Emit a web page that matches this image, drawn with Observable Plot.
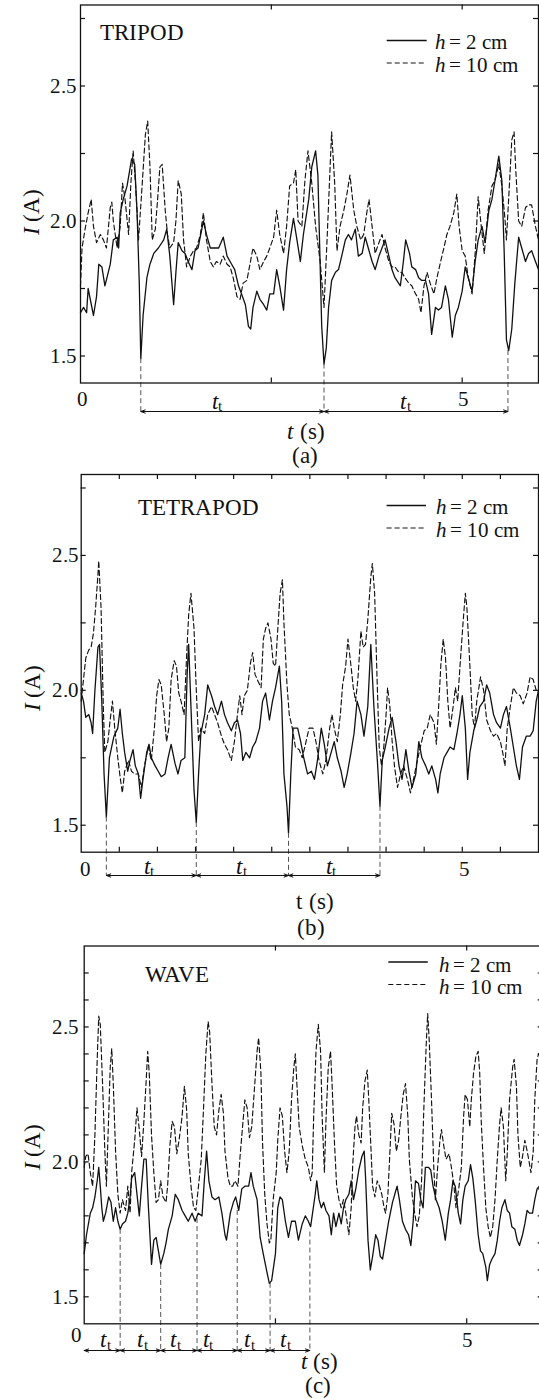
<!DOCTYPE html>
<html>
<head>
<meta charset="utf-8">
<script src="https://cdn.jsdelivr.net/npm/d3@7"></script>
<script src="https://cdn.jsdelivr.net/npm/@observablehq/plot@0.6"></script>
<style>
@font-face { font-family: "PaperSerif"; font-style: normal; font-weight: 400;
  src: local("Liberation Serif"), local("LiberationSerif"), local("LiberationSerif-Regular"), local("Liberation Serif Regular"), local("Times New Roman"), local("DejaVu Serif"), local("DejaVuSerif"); }
@font-face { font-family: "PaperSerif"; font-style: italic; font-weight: 400;
  src: local("Liberation Serif Italic"), local("LiberationSerif-Italic"), local("Times New Roman Italic"), local("DejaVu Serif Italic"), local("DejaVuSerif-Italic"); }
html, body { margin: 0; padding: 0; background: #fff; }
body { width: 539px; height: 1399px; overflow: hidden; }
#fig { width: 539px; overflow: hidden; }
#fig svg { display: block; max-width: none !important; }
#fig svg, #fig svg text { font-family: "PaperSerif", "Liberation Serif", "Times New Roman", Tinos, "DejaVu Serif", "Noto Serif", serif !important; }
</style>
</head>
<body>
<div id="fig"></div>
<script>
// ---------- DATA: [t (s), I (A)] ----------
const tripod2cm = [[0.00,1.66],[0.04,1.68],[0.08,1.66],[0.10,1.75],[0.17,1.65],[0.21,1.72],[0.24,1.84],[0.28,1.83],[0.32,1.76],[0.39,1.84],[0.43,1.93],[0.48,1.94],[0.50,1.90],[0.52,2.03],[0.56,2.08],[0.61,2.13],[0.67,2.23],[0.71,2.21],[0.74,2.04],[0.77,1.77],[0.79,1.49],[0.82,1.65],[0.87,1.79],[0.91,1.84],[0.96,1.88],[1.02,1.90],[1.09,1.93],[1.13,1.97],[1.17,1.87],[1.22,1.69],[1.25,1.81],[1.28,1.92],[1.33,1.89],[1.37,1.88],[1.41,1.85],[1.46,1.82],[1.50,1.89],[1.54,1.90],[1.61,2.00],[1.65,1.95],[1.70,1.90],[1.74,1.90],[1.81,1.90],[1.87,1.94],[1.92,1.87],[1.98,1.84],[2.02,1.82],[2.07,1.76],[2.11,1.73],[2.16,1.69],[2.20,1.61],[2.23,1.60],[2.26,1.68],[2.31,1.74],[2.35,1.71],[2.40,1.69],[2.44,1.67],[2.48,1.73],[2.53,1.73],[2.57,1.82],[2.61,1.76],[2.66,1.67],[2.70,1.82],[2.74,1.92],[2.79,2.01],[2.83,1.94],[2.88,1.85],[2.92,1.95],[2.99,2.08],[3.03,2.20],[3.08,2.26],[3.11,2.17],[3.14,1.83],[3.16,1.61],[3.19,1.47],[3.22,1.53],[3.25,1.68],[3.29,1.78],[3.34,1.81],[3.38,1.82],[3.43,1.88],[3.47,1.93],[3.51,1.95],[3.55,1.93],[3.60,1.97],[3.64,1.87],[3.69,1.88],[3.73,1.94],[3.77,1.90],[3.82,1.85],[3.86,1.82],[3.91,1.87],[3.95,1.90],[3.99,1.93],[4.04,1.87],[4.08,1.82],[4.12,1.79],[4.19,1.76],[4.23,1.85],[4.26,1.93],[4.31,1.88],[4.34,1.83],[4.39,1.82],[4.43,1.79],[4.47,1.78],[4.52,1.78],[4.56,1.73],[4.60,1.58],[4.65,1.68],[4.69,1.67],[4.73,1.68],[4.78,1.76],[4.82,1.71],[4.87,1.57],[4.91,1.65],[4.95,1.68],[5.00,1.74],[5.04,1.83],[5.08,1.79],[5.13,1.74],[5.17,1.85],[5.21,1.93],[5.26,1.98],[5.30,1.92],[5.35,2.04],[5.39,2.08],[5.43,2.15],[5.48,2.24],[5.52,2.15],[5.55,1.89],[5.58,1.56],[5.61,1.52],[5.65,1.60],[5.69,1.77],[5.74,1.94],[5.78,1.90],[5.83,1.85],[5.87,1.88],[5.91,1.89],[5.96,1.85],[6.00,1.82]];
const tripod10cm = [[0.00,1.76],[0.02,1.90],[0.06,1.97],[0.10,2.03],[0.14,2.08],[0.17,1.98],[0.21,1.92],[0.26,1.95],[0.30,1.93],[0.34,1.90],[0.39,2.05],[0.41,2.07],[0.43,2.00],[0.48,1.90],[0.52,1.98],[0.55,2.14],[0.58,2.09],[0.63,1.95],[0.66,2.14],[0.69,2.26],[0.72,2.14],[0.76,1.93],[0.80,2.10],[0.85,2.32],[0.88,2.37],[0.91,2.20],[0.94,1.93],[0.98,1.97],[1.01,2.08],[1.04,2.20],[1.07,2.21],[1.11,2.04],[1.14,1.95],[1.17,1.90],[1.22,1.92],[1.25,2.00],[1.28,2.15],[1.32,2.10],[1.35,1.93],[1.39,1.83],[1.44,1.87],[1.48,1.89],[1.52,1.90],[1.57,1.95],[1.61,2.03],[1.65,1.93],[1.70,1.85],[1.74,1.83],[1.78,1.85],[1.83,1.84],[1.87,1.87],[1.92,1.84],[1.96,1.83],[2.00,1.79],[2.05,1.72],[2.09,1.71],[2.13,1.77],[2.18,1.78],[2.22,1.84],[2.26,1.90],[2.31,1.87],[2.35,1.82],[2.40,1.85],[2.44,1.87],[2.48,1.90],[2.53,1.94],[2.57,2.04],[2.61,1.95],[2.66,1.88],[2.70,1.98],[2.74,2.13],[2.79,2.14],[2.82,2.19],[2.85,2.00],[2.90,1.98],[2.94,2.15],[2.98,2.26],[3.03,2.14],[3.08,1.98],[3.14,1.85],[3.19,1.68],[3.23,1.93],[3.27,2.20],[3.29,2.33],[3.33,2.14],[3.36,1.89],[3.40,1.98],[3.45,2.04],[3.49,2.10],[3.53,2.17],[3.58,2.04],[3.62,1.98],[3.67,1.93],[3.71,1.95],[3.75,2.03],[3.78,2.08],[3.82,1.98],[3.86,1.88],[3.91,1.92],[3.95,1.95],[3.99,1.90],[4.04,1.85],[4.08,1.83],[4.12,1.83],[4.17,1.81],[4.21,1.81],[4.25,1.79],[4.30,1.77],[4.34,1.76],[4.39,1.73],[4.43,1.71],[4.46,1.66],[4.50,1.76],[4.54,1.81],[4.58,1.77],[4.63,1.73],[4.67,1.79],[4.71,1.84],[4.76,1.90],[4.80,1.95],[4.84,1.98],[4.89,2.03],[4.93,2.10],[4.96,1.98],[5.00,1.89],[5.04,1.87],[5.08,1.79],[5.13,1.73],[5.17,1.88],[5.21,2.09],[5.25,1.98],[5.29,1.88],[5.34,2.04],[5.39,2.13],[5.43,2.15],[5.48,2.21],[5.52,2.13],[5.56,2.01],[5.58,1.93],[5.62,2.14],[5.65,2.30],[5.68,2.33],[5.70,2.20],[5.74,2.00],[5.78,1.98],[5.83,2.05],[5.87,2.06],[5.91,2.06],[5.96,1.98],[6.00,1.93]];
const tetrapod2cm = [[0.00,1.99],[0.03,1.96],[0.06,1.90],[0.10,1.91],[0.13,1.88],[0.15,1.84],[0.18,2.00],[0.22,2.16],[0.24,2.17],[0.27,1.96],[0.30,1.69],[0.33,1.53],[0.37,1.75],[0.40,1.79],[0.43,1.83],[0.48,1.86],[0.51,1.93],[0.54,1.84],[0.57,1.77],[0.61,1.70],[0.64,1.74],[0.68,1.78],[0.71,1.72],[0.75,1.69],[0.78,1.60],[0.81,1.67],[0.86,1.77],[0.89,1.80],[0.92,1.75],[0.97,1.72],[1.01,1.70],[1.05,1.68],[1.10,1.69],[1.14,1.75],[1.18,1.80],[1.23,1.73],[1.27,1.69],[1.31,1.74],[1.36,1.75],[1.39,2.06],[1.41,2.17],[1.44,1.94],[1.48,1.63],[1.51,1.51],[1.54,1.69],[1.57,1.84],[1.62,1.91],[1.66,2.02],[1.71,1.98],[1.75,1.94],[1.79,1.91],[1.84,1.96],[1.88,1.91],[1.92,1.88],[1.97,1.85],[2.01,1.88],[2.05,1.89],[2.09,1.84],[2.12,1.74],[2.16,1.77],[2.21,1.75],[2.25,1.79],[2.29,1.81],[2.34,1.86],[2.38,1.96],[2.42,1.99],[2.47,1.89],[2.51,1.96],[2.55,2.01],[2.60,2.09],[2.63,1.96],[2.66,1.69],[2.70,1.57],[2.72,1.47],[2.75,1.69],[2.78,1.86],[2.84,1.86],[2.88,1.81],[2.92,1.75],[2.97,1.69],[3.02,1.70],[3.06,1.67],[3.10,1.74],[3.15,1.86],[3.19,1.80],[3.23,1.72],[3.28,1.77],[3.32,1.81],[3.36,1.75],[3.41,1.70],[3.45,1.64],[3.49,1.69],[3.54,1.77],[3.58,1.84],[3.62,1.96],[3.67,1.91],[3.71,1.83],[3.76,1.94],[3.80,2.17],[3.84,1.94],[3.89,1.72],[3.92,1.57],[3.95,1.74],[3.99,1.79],[4.04,1.86],[4.08,1.90],[4.13,1.81],[4.17,1.72],[4.21,1.67],[4.26,1.78],[4.30,1.70],[4.34,1.64],[4.39,1.69],[4.43,1.81],[4.47,1.75],[4.52,1.72],[4.56,1.69],[4.60,1.72],[4.65,1.67],[4.68,1.62],[4.71,1.69],[4.76,1.75],[4.80,1.77],[4.84,1.79],[4.89,1.78],[4.93,1.84],[4.97,1.91],[5.00,1.98],[5.04,1.86],[5.07,1.67],[5.10,1.77],[5.15,1.85],[5.19,1.89],[5.23,1.94],[5.28,1.96],[5.32,2.02],[5.36,1.99],[5.41,1.91],[5.45,1.88],[5.50,1.86],[5.54,1.91],[5.58,1.94],[5.63,1.86],[5.67,1.79],[5.71,1.72],[5.75,1.67],[5.79,1.79],[5.84,1.83],[5.89,1.83],[5.93,1.85],[5.97,1.96],[6.00,2.00]];
const tetrapod10cm = [[0.00,1.96],[0.03,2.04],[0.06,2.12],[0.10,2.15],[0.13,2.16],[0.16,2.21],[0.19,2.31],[0.22,2.43],[0.23,2.48],[0.26,2.31],[0.29,1.94],[0.31,1.77],[0.35,1.81],[0.38,1.89],[0.41,1.96],[0.44,1.86],[0.48,1.75],[0.51,1.68],[0.54,1.62],[0.57,1.70],[0.62,1.74],[0.66,1.70],[0.70,1.69],[0.75,1.69],[0.79,1.64],[0.83,1.72],[0.88,1.79],[0.92,1.74],[0.96,1.86],[0.99,1.98],[1.02,2.04],[1.05,2.02],[1.09,1.91],[1.12,1.81],[1.15,1.86],[1.18,2.04],[1.22,2.11],[1.25,2.09],[1.28,1.99],[1.31,1.96],[1.35,1.91],[1.38,2.11],[1.41,2.28],[1.44,2.36],[1.48,2.23],[1.51,2.00],[1.54,1.81],[1.57,1.86],[1.62,1.84],[1.66,1.91],[1.71,1.94],[1.75,1.91],[1.79,1.88],[1.84,1.83],[1.88,1.80],[1.92,1.78],[1.97,1.74],[2.01,1.81],[2.05,1.91],[2.08,1.98],[2.11,1.91],[2.14,1.98],[2.18,2.00],[2.22,2.10],[2.25,2.14],[2.28,2.06],[2.31,2.04],[2.36,2.01],[2.39,2.19],[2.42,2.23],[2.45,2.25],[2.49,2.19],[2.52,2.10],[2.55,2.09],[2.58,2.23],[2.61,2.36],[2.64,2.41],[2.66,2.25],[2.70,2.02],[2.73,1.91],[2.77,1.86],[2.81,1.79],[2.86,1.78],[2.90,1.75],[2.95,1.81],[2.99,1.86],[3.04,1.86],[3.08,1.81],[3.12,1.74],[3.17,1.69],[3.21,1.74],[3.26,1.86],[3.29,1.91],[3.32,1.86],[3.36,1.81],[3.40,1.91],[3.43,2.02],[3.47,2.09],[3.50,2.19],[3.54,2.09],[3.57,2.01],[3.60,1.96],[3.63,2.04],[3.67,2.22],[3.70,2.16],[3.73,2.17],[3.76,2.26],[3.80,2.42],[3.82,2.47],[3.85,2.36],[3.88,2.06],[3.91,1.79],[3.94,1.72],[3.97,1.79],[4.00,1.91],[4.02,2.01],[4.05,1.94],[4.08,1.81],[4.11,1.72],[4.15,1.64],[4.19,1.69],[4.23,1.72],[4.28,1.67],[4.32,1.62],[4.36,1.67],[4.41,1.74],[4.45,1.79],[4.50,1.85],[4.54,1.86],[4.58,1.91],[4.63,1.88],[4.66,1.80],[4.69,1.94],[4.72,2.10],[4.75,2.19],[4.78,2.12],[4.81,1.96],[4.84,1.86],[4.88,1.94],[4.91,2.01],[4.94,1.96],[4.97,2.09],[5.01,2.25],[5.04,2.36],[5.06,2.31],[5.10,2.09],[5.13,1.91],[5.16,1.86],[5.19,1.96],[5.24,2.05],[5.28,2.00],[5.32,1.89],[5.37,1.85],[5.41,1.83],[5.45,1.84],[5.50,1.81],[5.53,1.77],[5.56,1.72],[5.59,1.86],[5.63,1.94],[5.67,2.01],[5.71,1.99],[5.76,1.98],[5.80,1.95],[5.85,1.99],[5.89,2.05],[5.93,2.04],[5.97,2.00]];
const wave2cm = [[0.00,1.66],[0.03,1.73],[0.08,1.81],[0.11,1.83],[0.14,1.87],[0.17,1.93],[0.19,1.98],[0.21,1.91],[0.23,1.83],[0.25,1.78],[0.28,1.81],[0.32,1.87],[0.35,1.85],[0.38,1.78],[0.41,1.83],[0.44,1.78],[0.47,1.75],[0.50,1.77],[0.54,1.78],[0.57,1.81],[0.60,1.87],[0.62,1.94],[0.66,1.96],[0.69,1.88],[0.72,1.80],[0.75,1.91],[0.78,2.01],[0.81,2.01],[0.84,1.83],[0.88,1.62],[0.91,1.71],[0.94,1.72],[0.97,1.67],[1.00,1.62],[1.04,1.66],[1.07,1.70],[1.10,1.75],[1.15,1.80],[1.19,1.88],[1.23,1.86],[1.28,1.82],[1.32,1.80],[1.36,1.78],[1.41,1.81],[1.45,1.78],[1.49,1.81],[1.54,1.80],[1.57,1.93],[1.60,2.04],[1.63,1.93],[1.67,1.87],[1.71,1.86],[1.76,1.87],[1.80,1.81],[1.84,1.73],[1.86,1.71],[1.91,1.81],[1.95,1.85],[1.98,1.87],[2.02,1.82],[2.06,1.90],[2.10,1.91],[2.15,1.91],[2.18,1.96],[2.21,1.91],[2.26,1.86],[2.30,1.72],[2.34,1.66],[2.39,1.59],[2.42,1.55],[2.45,1.56],[2.50,1.66],[2.53,1.83],[2.56,1.87],[2.59,1.86],[2.63,1.78],[2.67,1.72],[2.71,1.78],[2.76,1.78],[2.80,1.71],[2.85,1.77],[2.89,1.80],[2.93,1.78],[2.96,1.76],[3.02,1.88],[3.04,1.93],[3.07,1.86],[3.10,1.83],[3.13,1.85],[3.16,1.82],[3.20,1.80],[3.23,1.73],[3.26,1.81],[3.29,1.76],[3.33,1.81],[3.36,1.77],[3.39,1.83],[3.42,1.86],[3.46,1.88],[3.49,1.93],[3.52,1.86],[3.55,1.90],[3.59,1.97],[3.63,2.02],[3.66,2.04],[3.68,1.93],[3.71,1.71],[3.74,1.60],[3.77,1.65],[3.81,1.73],[3.84,1.71],[3.87,1.65],[3.90,1.64],[3.94,1.71],[3.98,1.78],[4.03,1.85],[4.06,1.88],[4.09,1.91],[4.12,1.86],[4.16,1.78],[4.20,1.75],[4.24,1.73],[4.27,1.69],[4.30,1.78],[4.33,1.93],[4.37,1.92],[4.40,1.86],[4.43,1.83],[4.46,1.98],[4.50,1.98],[4.53,1.97],[4.56,1.91],[4.60,1.86],[4.64,1.83],[4.68,1.78],[4.72,1.71],[4.76,1.81],[4.79,1.86],[4.82,1.93],[4.85,1.91],[4.89,1.81],[4.92,1.77],[4.95,1.86],[4.98,1.91],[5.02,1.93],[5.05,1.99],[5.08,1.94],[5.11,1.86],[5.15,1.73],[5.18,1.67],[5.21,1.66],[5.25,1.61],[5.27,1.56],[5.30,1.62],[5.33,1.64],[5.37,1.66],[5.40,1.71],[5.43,1.78],[5.46,1.83],[5.50,1.86],[5.53,1.82],[5.56,1.81],[5.59,1.76],[5.63,1.75],[5.66,1.71],[5.69,1.69],[5.73,1.73],[5.76,1.77],[5.79,1.82],[5.82,1.81],[5.86,1.81],[5.89,1.86],[5.92,1.90],[5.95,1.91],[6.00,1.91]];
const wave10cm = [[0.00,1.98],[0.02,2.02],[0.05,2.03],[0.08,1.96],[0.11,1.91],[0.14,2.10],[0.17,2.38],[0.19,2.54],[0.21,2.51],[0.24,2.29],[0.27,2.04],[0.29,1.91],[0.32,2.17],[0.34,2.35],[0.36,2.42],[0.38,2.29],[0.41,2.04],[0.44,1.88],[0.47,1.81],[0.50,1.86],[0.54,1.82],[0.57,1.91],[0.60,1.81],[0.62,1.96],[0.66,2.08],[0.69,2.20],[0.72,2.12],[0.75,2.02],[0.78,2.15],[0.81,2.30],[0.83,2.41],[0.85,2.33],[0.88,2.10],[0.91,1.96],[0.94,1.85],[0.97,1.86],[1.00,1.93],[1.03,1.87],[1.07,1.85],[1.09,1.91],[1.12,2.06],[1.15,2.15],[1.18,2.13],[1.21,2.03],[1.24,2.08],[1.28,2.17],[1.31,2.28],[1.34,2.19],[1.36,2.03],[1.40,1.90],[1.43,1.83],[1.46,1.82],[1.49,1.90],[1.53,2.01],[1.56,2.20],[1.59,2.40],[1.62,2.52],[1.64,2.48],[1.67,2.29],[1.70,2.13],[1.73,2.10],[1.76,2.19],[1.79,2.25],[1.82,2.18],[1.84,2.04],[1.88,1.94],[1.91,1.91],[1.94,1.91],[1.97,1.93],[2.01,1.91],[2.04,2.03],[2.07,2.13],[2.10,2.23],[2.13,2.20],[2.16,2.09],[2.19,2.13],[2.23,2.29],[2.26,2.41],[2.28,2.46],[2.31,2.33],[2.33,2.08],[2.36,1.88],[2.39,1.77],[2.42,1.70],[2.44,1.71],[2.47,1.86],[2.51,1.96],[2.53,2.08],[2.56,2.20],[2.59,2.17],[2.62,2.04],[2.65,1.96],[2.68,2.04],[2.71,2.23],[2.74,2.35],[2.76,2.40],[2.78,2.29],[2.81,2.13],[2.85,2.06],[2.89,2.01],[2.93,1.98],[2.96,1.93],[2.98,1.96],[3.00,2.17],[3.03,2.41],[3.06,2.51],[3.09,2.41],[3.11,2.17],[3.14,1.96],[3.16,2.15],[3.19,2.35],[3.22,2.41],[3.24,2.29],[3.27,2.08],[3.30,1.91],[3.33,1.86],[3.36,1.83],[3.39,1.86],[3.42,1.81],[3.46,1.73],[3.49,1.83],[3.51,1.99],[3.54,2.13],[3.56,2.17],[3.59,2.10],[3.62,2.07],[3.64,2.20],[3.67,2.30],[3.70,2.34],[3.72,2.23],[3.75,2.04],[3.77,1.91],[3.80,1.87],[3.83,1.93],[3.86,1.91],[3.89,1.88],[3.92,1.83],[3.94,1.81],[3.97,1.88],[4.00,2.06],[4.02,2.18],[4.05,2.14],[4.08,2.04],[4.11,2.08],[4.14,2.17],[4.17,2.25],[4.20,2.29],[4.23,2.17],[4.25,2.01],[4.29,1.87],[4.32,1.81],[4.35,1.76],[4.38,1.80],[4.41,1.93],[4.44,2.20],[4.47,2.43],[4.49,2.55],[4.51,2.45],[4.54,2.23],[4.57,1.98],[4.59,1.86],[4.62,1.98],[4.65,2.08],[4.67,2.12],[4.70,2.06],[4.73,2.01],[4.77,2.03],[4.80,1.98],[4.83,1.92],[4.86,1.83],[4.90,1.91],[4.93,1.98],[4.96,2.17],[4.98,2.25],[5.01,2.23],[5.04,2.13],[5.06,2.23],[5.09,2.33],[5.12,2.39],[5.15,2.41],[5.17,2.33],[5.19,2.15],[5.22,1.98],[5.25,1.83],[5.28,1.76],[5.31,1.72],[5.34,1.76],[5.37,1.86],[5.40,2.01],[5.43,2.14],[5.45,2.20],[5.48,2.13],[5.51,1.93],[5.53,2.03],[5.56,2.23],[5.60,2.35],[5.62,2.38],[5.65,2.28],[5.67,2.10],[5.70,1.98],[5.73,2.02],[5.76,2.08],[5.79,2.04],[5.81,2.01],[5.84,1.96],[5.87,2.04],[5.89,2.23],[5.92,2.38],[5.94,2.40],[6.00,2.40]];

// gait-period markers: [t, I at the trough]
const tripodMarks = [[0.79,1.49],[3.19,1.47],[5.60,1.52]];
const tetrapodMarks = [[0.33,1.53],[1.51,1.51],[2.72,1.47],[3.92,1.57]];
const waveMarks = [[0.47,1.75],[1.00,1.62],[1.475,1.79],[2.00,1.82],[2.43,1.55],[2.95,1.74]];
// arrow boundaries (s)
const tripodBounds = [0.79, 3.19, 5.60];
const tetrapodBounds = [0.33, 1.51, 2.72, 3.92];
const waveBounds = [0, 0.47, 1.00, 1.475, 2.00, 2.43, 2.95];
// t_t label positions (s)
const tripodTt = [1.79, 4.26];
const tetrapodTt = [0.89, 2.10, 3.28];
const waveTt = [0.28, 0.76, 1.19, 1.62, 2.16, 2.63];
// ticks and labels
const yTicksQuarter = [1.5, 1.75, 2.0, 2.25, 2.5, 2.75];
const yTicksTenth = [1.5, 1.6, 1.7, 1.8, 1.9, 2.0, 2.1, 2.2, 2.3, 2.4, 2.5, 2.6, 2.7];
const yTickLabels = [1.5, 2.0, 2.5];
const xTicksCoarse = [2.5, 5];
const xTicksHalf = [0.5, 1, 1.5, 2, 2.5, 3, 3.5, 4, 4.5, 5, 5.5];
const xTickLabels = [0, 5];
const seriesNames = ["h = 2 cm", "h = 10 cm"];

const SERIF = "PaperSerif, Liberation Serif, Times New Roman, Tinos, DejaVu Serif, serif";
const INK = "#111";
const LEG_GAP = 22.5;   // spacing between legend rows (px)

function buildPanel(p) {
  const fw = p.width - p.ml - p.mr;
  const fh = p.height - p.mt - p.mb;
  const Y0 = 1.4, Y1 = 2.8;
  const at = (text, ax, ay, o = {}) => Plot.text([text], {
    frameAnchor: "top-left", dx: ax - p.ml, dy: ay - p.mt,
    textAnchor: "start", lineAnchor: "bottom",
    fontFamily: SERIF, fontSize: 23, fill: INK, ...o
  });
  const segs = [];
  for (let i = 0; i + 1 < p.bounds.length; i++) {
    const m = (p.bounds[i] + p.bounds[i + 1]) / 2;
    segs.push({a: m, b: p.bounds[i]}, {a: m, b: p.bounds[i + 1]});
  }
  const tickStyle = {stroke: INK, strokeWidth: 1.2};
  const legB2 = p.legB1 + LEG_GAP, legY2 = p.legY1 + LEG_GAP;
  const marks = [
    Plot.line(p.dashed, {x: d => d[0], y: d => d[1], stroke: INK, strokeWidth: 1.15, strokeDasharray: "5,3"}),
    Plot.line(p.solid, {x: d => d[0], y: d => d[1], stroke: INK, strokeWidth: 1.3}),
    Plot.ruleX(p.markers, {x: d => d[0], y1: d => d[1], y2: () => Y0, insetBottom: -p.arrowDy, stroke: "#555", strokeWidth: 1, strokeDasharray: "5,3"}),
    Plot.arrow(segs, {x1: "a", x2: "b", y1: () => Y0, y2: () => Y0, dy: p.arrowDy, stroke: INK, strokeWidth: 1, headLength: 7, headAngle: 40}),
    Plot.frame({stroke: INK, strokeWidth: 1.3}),
    Plot.tickY(p.yTicks, {y: d => d, insetRight: fw - 5, ...tickStyle}),
    Plot.tickY(p.yTicks, {y: d => d, insetLeft: fw - 5, ...tickStyle}),
    Plot.tickX(p.xTicks, {x: d => d, insetTop: fh - 5, ...tickStyle}),
    Plot.tickX(p.xTicks, {x: d => d, insetBottom: fh - 5, ...tickStyle}),
    Plot.text(yTickLabels, {y: d => d, text: d => d.toFixed(1), frameAnchor: "left", textAnchor: "end", lineAnchor: "middle", dx: p.yLabelDx, fontFamily: SERIF, fontSize: 21, fill: INK}),
    ...xTickLabels.map((v, i) => Plot.text([v], {x: d => d, text: d => String(d), frameAnchor: "top", dx: p.xLabelDx[i], dy: p.xLabelB[i] - p.mt, textAnchor: "middle", lineAnchor: "bottom", fontFamily: SERIF, fontSize: 21, fill: INK})),
    // t_t labels
    Plot.text(p.tt, {x: d => d, text: () => "t", frameAnchor: "top", dx: -5.3, dy: p.ttB - p.mt, textAnchor: "start", lineAnchor: "bottom", fontFamily: SERIF, fontSize: 23, fontStyle: "italic", fill: INK}),
    Plot.text(p.tt, {x: d => d, text: () => "t", frameAnchor: "top", dx: 1.3, dy: p.ttB + 2.5 - p.mt, textAnchor: "start", lineAnchor: "bottom", fontFamily: SERIF, fontSize: 15, fill: INK}),
    // legend
    Plot.ruleY([Y1], {y: d => d, insetLeft: p.legX1 - p.ml, insetRight: p.width - p.mr - p.legX2, dy: p.legY1 - p.mt, stroke: INK, strokeWidth: 1.3}),
    Plot.ruleY([Y1], {y: d => d, insetLeft: p.legX1 - p.ml, insetRight: p.width - p.mr - p.legX2, dy: legY2 - p.mt, stroke: INK, strokeWidth: 1.2, strokeDasharray: "5,3"}),
    at(seriesNames[0].slice(0, 1), p.legHX, p.legB1, {fontStyle: "italic", fontSize: 21}),
    at(seriesNames[0].slice(2), p.legHX + 14, p.legB1, {fontSize: 21}),
    at(seriesNames[1].slice(0, 1), p.legHX, legB2, {fontStyle: "italic", fontSize: 21}),
    at(seriesNames[1].slice(2), p.legHX + 14, legB2, {fontSize: 21}),
    // panel title
    at(p.title, p.titleX, p.titleB),
    // y label  I (A)
    at("I", p.yLabX, p.yLabC + 22.7, {rotate: -90, lineAnchor: "middle", fontStyle: "italic"}),
    at("(A)", p.yLabX, p.yLabC + 9.2, {rotate: -90, lineAnchor: "middle"}),
    // x label  t (s)
    at("t", p.xLabC - 18.2, p.xLabB, {fontStyle: p.tItalic ? "italic" : "normal"}),
    at("(s)", p.xLabC - 6, p.xLabB),
    // caption
    at(p.caption, p.capX, p.capB, {textAnchor: "middle"})
  ];
  return Plot.plot({
    width: p.width, height: p.height,
    marginLeft: p.ml, marginRight: p.mr, marginTop: p.mt, marginBottom: p.mb,
    x: {domain: [0, 6], axis: null},
    y: {domain: [Y0, Y1], axis: null},
    style: {maxWidth: "none", background: "#fff", fontFamily: SERIF, overflow: "visible"},
    marks
  });
}

const panels = [
  {title: "TRIPOD", caption: "(a)", solid: tripod2cm, dashed: tripod10cm, markers: tripodMarks, bounds: tripodBounds, tt: tripodTt,
   yTicks: yTicksQuarter, xTicks: xTicksCoarse,
   width: 539, height: 472, ml: 80, mr: 1, mt: 4.5, mb: 89.5,
   arrowDy: 28.5, ttB: 408, xLabelDx: [2, 1.3], xLabelB: [405, 405], yLabelDx: -4,
   titleX: 99.3, titleB: 39.3,
   legX1: 386.7, legX2: 426.7, legY1: 40, legHX: 434, legB1: 48.5,
   yLabX: 31, yLabC: 212, xLabC: 305, xLabB: 438, tItalic: true, capX: 304, capB: 462},
  {title: "TETRAPOD", caption: "(b)", solid: tetrapod2cm, dashed: tetrapod10cm, markers: tetrapodMarks, bounds: tetrapodBounds, tt: tetrapodTt,
   yTicks: yTicksQuarter, xTicks: xTicksHalf,
   width: 539, height: 470, ml: 80.7, mr: 1, mt: 2, mb: 90.3,
   arrowDy: 23.3, ttB: 401.3, xLabelDx: [3.8, 2.3], xLabelB: [403, 403], yLabelDx: -2.5,
   titleX: 137.5, titleB: 42,
   legX1: 386.6, legX2: 426, legY1: 33, legHX: 435.7, legB1: 41.5,
   yLabX: 32.6, yLabC: 216, xLabC: 314, xLabB: 436, tItalic: false, capX: 310, capB: 462},
  {title: "WAVE", caption: "(c)", solid: wave2cm, dashed: wave10cm, markers: waveMarks, bounds: waveBounds, tt: waveTt,
   yTicks: yTicksTenth, xTicks: xTicksCoarse,
   width: 543, height: 457, ml: 83.7, mr: 0.3, mt: 3.5, mb: 75.7,
   arrowDy: 26.7, ttB: 404.7, xLabelDx: [-8.1, 1], xLabelB: [399.7, 404.7], yLabelDx: -5.3,
   titleX: 144.3, titleB: 39.7,
   legX1: 388.3, legX2: 427.8, legY1: 19.5, legHX: 438, legB1: 29,
   yLabX: 32.6, yLabC: 205, xLabC: 318.7, xLabB: 426, tItalic: true, capX: 317, capB: 450}
];

const fig = document.getElementById("fig");
for (const p of panels) fig.appendChild(buildPanel(p));
</script>
</body>
</html>
